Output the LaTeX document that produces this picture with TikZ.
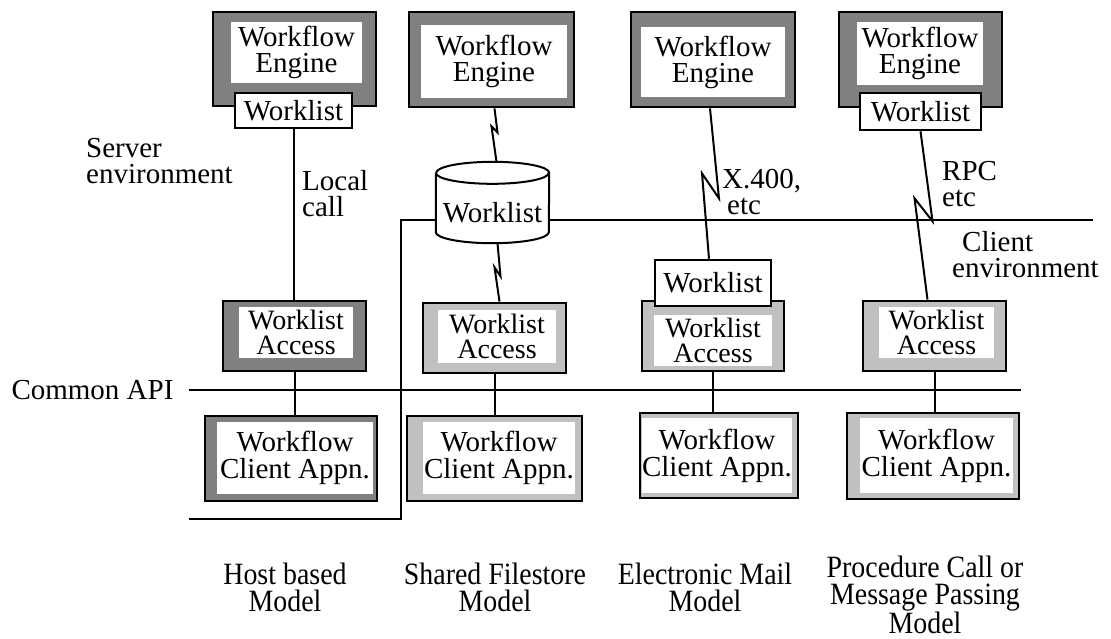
\documentclass[tikz,border=0pt]{standalone}
\usepackage{fontspec}
\setmainfont{Liberation Serif}
\newfontfamily\narrowserif[FakeStretch=0.9]{Liberation Serif}
\usetikzlibrary{positioning, calc}

\definecolor{framedark}{HTML}{808080}
\definecolor{framelight}{HTML}{C0C0C0}

\tikzset{
  outerbox/.style 2 args={draw, line width=2.8pt, inner sep=0pt, minimum width=#1, minimum height=#2},
  whitebox/.style 2 args={fill=white, inner sep=0pt, align=center, minimum width=#1, minimum height=#2},
  listbox/.style 2 args={draw, fill=white, line width=2.5pt, inner sep=0pt, minimum width=#1, minimum height=#2},
  tight/.style={font=\fontsize{28}{25}\selectfont},
  loose/.style={font=\fontsize{29}{27}\selectfont},
  note/.style={align=left, inner sep=0pt},
  model/.style={align=center, inner sep=0pt, font=\narrowserif\fontsize{31}{27}\selectfont},
  link/.style={line width=2pt}
}

\begin{document}
\begin{tikzpicture}[x=1pt, y=-1pt, every node/.style={font=\fontsize{29}{26}\selectfont}]
        \useasboundingbox (0,0) rectangle (1111,638);

        % Engines
        \node[outerbox={163pt}{94pt}, fill=framedark] (eng1) at (294.5,59) {};
        \node[whitebox={131pt}{61pt}] (eng1txt) at (296.5,52.5) {Workflow\\Engine};
        \node[listbox={117pt}{35pt}] (wl1) at (293.5,110.5) {Worklist};

        \node[outerbox={165pt}{95pt}, fill=framedark] (eng2) at (491.5,59.5) {};
        \node[whitebox={146pt}{73pt}] (eng2txt) at (494,61.5) {Workflow\\Engine};

        \node[outerbox={164pt}{95pt}, fill=framedark] (eng3) at (713,59.5) {};
        \node[whitebox={144pt}{70pt}] (eng3txt) at (713,62) {Workflow\\Engine};

        \node[outerbox={163pt}{95pt}, fill=framedark] (eng4) at (920.5,59.5) {};
        \node[whitebox={126pt}{63pt}] (eng4txt) at (920,53.5) {Workflow\\Engine};
        \node[listbox={121pt}{37pt}] (wl4) at (920.5,111.5) {Worklist};

        % Shared worklist store
        \node[minimum width=113pt, minimum height=81pt, inner sep=0pt] (store) at (492.5,202.5) {};
        \draw[link, fill=white] ([yshift=-11pt]store.north west) -- ([yshift=11pt]store.south west)
                arc[start angle=180, end angle=360, x radius=56.5pt, y radius=11pt]
                -- ([yshift=-11pt]store.north east)
                arc[start angle=0, end angle=180, x radius=56.5pt, y radius=11pt];
        \draw[link] ([yshift=-11pt]store.north west) arc[start angle=180, end angle=360, x radius=56.5pt, y radius=11pt];
        \node (storetxt) at ([yshift=-10.5pt]store.center) {Worklist};

        % Worklist access
        \node[outerbox={143pt}{70pt}, fill=framedark] (acc1) at (294.5,336) {};
        \node[whitebox={114pt}{51pt}, tight] (acc1txt) at (296,332.5) {Worklist\\Access};
        \node[outerbox={143pt}{70pt}, fill=framelight] (acc2) at (494.5,338) {};
        \node[whitebox={118pt}{53pt}, tight] (acc2txt) at (497,336.5) {Worklist\\Access};
        \node[outerbox={142pt}{70pt}, fill=framelight] (acc3) at (713,336) {};
        \node[whitebox={118pt}{51pt}, tight] (acc3txt) at (713,340.5) {Worklist\\Access};
        \node[listbox={116pt}{46pt}] (wl3) at (713,283) {Worklist};
        \node[outerbox={143pt}{70pt}, fill=framelight] (acc4) at (934.5,336) {};
        \node[whitebox={115pt}{51pt}, tight] (acc4txt) at (936.5,332.5) {Worklist\\Access};

        % Client applications
        \node[outerbox={172pt}{85pt}, fill=framedark] (app1) at (291,458.5) {};
        \node[whitebox={156pt}{72pt}, loose] (app1txt) at (295,458) {Workflow\\Client Appn.};
        \node[outerbox={175pt}{85pt}, fill=framelight] (app2) at (494.5,458.5) {};
        \node[whitebox={152pt}{72pt}, loose] (app2txt) at (499,458) {Workflow\\Client Appn.};
        \node[outerbox={158pt}{85pt}, fill=framelight] (app3) at (719,455.5) {};
        \node[whitebox={148pt}{75pt}, loose] (app3txt) at (717,455.5) {Workflow\\Client Appn.};
        \node[outerbox={172pt}{86pt}, fill=framelight] (app4) at (933,456) {};
        \node[whitebox={153pt}{75pt}, loose] (app4txt) at (936.5,455.5) {Workflow\\Client Appn.};

        % Labels
        \node[note, anchor=west] (server) at (86,161) {Server\\environment};
        \node[note, anchor=west] (local) at (302,194) {Local\\call};
        \node[note, anchor=west] (x400) at (722,192) {X.400,\\\hspace*{5pt}etc};
        \node[note, anchor=west] (rpc) at (942,184) {RPC\\etc};
        \node[note, anchor=west] (client) at (952,255) {\hspace*{10pt}Client\\environment};
        \node[inner sep=0pt] (api) at (92.5,390) {Common API};

        \node[model] (host) at (285,587) {Host based\\Model};
        \node[model] (shared) at (495,587) {Shared Filestore\\Model};
        \node[model] (mail) at (705,587) {Electronic Mail\\Model};
        \node[model] (proc) at (925,595) {Procedure Call or\\Message Passing\\Model};

        % Boundary lines
        \coordinate (bndL) at (401,220);
        \coordinate (bndR) at (1093,220);
        \coordinate (bndB) at (401,519);
        \coordinate (bndE) at (189,519);
        \coordinate (apiend) at (1021,390);
        \draw[link] ([yshift=-17.5pt]store.east) -- (bndR);
        \draw[link] ([yshift=-17.5pt]store.west) -- (bndL) -- (bndB) -- (bndE);
        \draw[link] ([xshift=15pt]api.east) -- (apiend);

        % Calls
        \draw[link] (wl1.south) -- (wl1.south |- acc1.north);
        \draw[link] ([xshift=3pt]eng2.south) -- ++(3,24) -- ++(-6,-6) -- ([xshift=4pt]store.north);
        \draw[link] ([xshift=5pt]store.south) -- ++(3,33) -- ++(-6,-9) -- ([xshift=5pt]acc2.north);
        \draw[link] ([xshift=-3pt]eng3.south) -- ++(9,90) -- ++(-17,-25) -- ([xshift=-4pt]wl3.north);
        \draw[link] (wl4.south) -- ++(12,90) -- ++(-18,-23) -- ([xshift=-7pt]acc4.north);
        \foreach \i in {1,...,4} {
                \draw[link] (acc\i.south) -- (acc\i.south |- app\i.north);
        }
\end{tikzpicture}
\end{document}
